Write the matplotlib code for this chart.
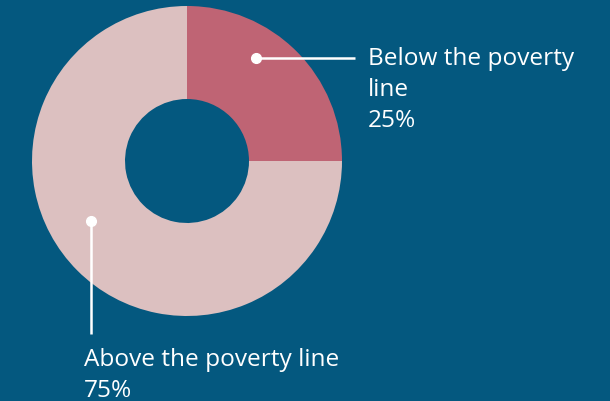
import matplotlib
matplotlib.use("Agg")
import matplotlib.pyplot as plt

labels = ["Below the poverty\nline", "Above the poverty line"]
values = [25, 75]
pct_labels = ["25%", "75%"]
colors = ["#bf6474", "#dcc0c0"]
bg = "#04587f"

W, H = 610, 402
fig = plt.figure(figsize=(W / 100, H / 100), dpi=100, facecolor=bg)
ax = fig.add_axes([0, 0, 1, 1])
ax.set_facecolor(bg)

cx, cy = 187, H - 162
R, r = 155, 62
ax.pie(values, colors=colors, startangle=90, counterclock=False,
       center=(cx, cy), radius=R, wedgeprops=dict(width=R - r, linewidth=0),
       frame=True)
ax.set_xlim(0, W)
ax.set_ylim(0, H)
ax.set_aspect("equal")
ax.axis("off")

font = "Open Sans"
fs = 17.6
fw = "normal"
ls = 1.4
# Below label
ax.plot([256, 355], [H - 59, H - 59], color="white", lw=1.8, solid_capstyle="butt")
ax.plot([256], [H - 59], "o", color="white", ms=7)
ax.text(368, H - 47, labels[0] + "\n" + pct_labels[0], color="white", fontsize=fs,
        family=font, weight=fw, va="top", ha="left", linespacing=ls)
# Above label
ax.plot([91, 91], [H - 222, H - 335], color="white", lw=1.8, solid_capstyle="butt")
ax.plot([91], [H - 222], "o", color="white", ms=7)
ax.text(84, H - 348, labels[1] + "\n" + pct_labels[1], color="white", fontsize=fs,
        family=font, weight=fw, va="top", ha="left", linespacing=ls)

fig.savefig("out.png", dpi=100, facecolor=bg)
